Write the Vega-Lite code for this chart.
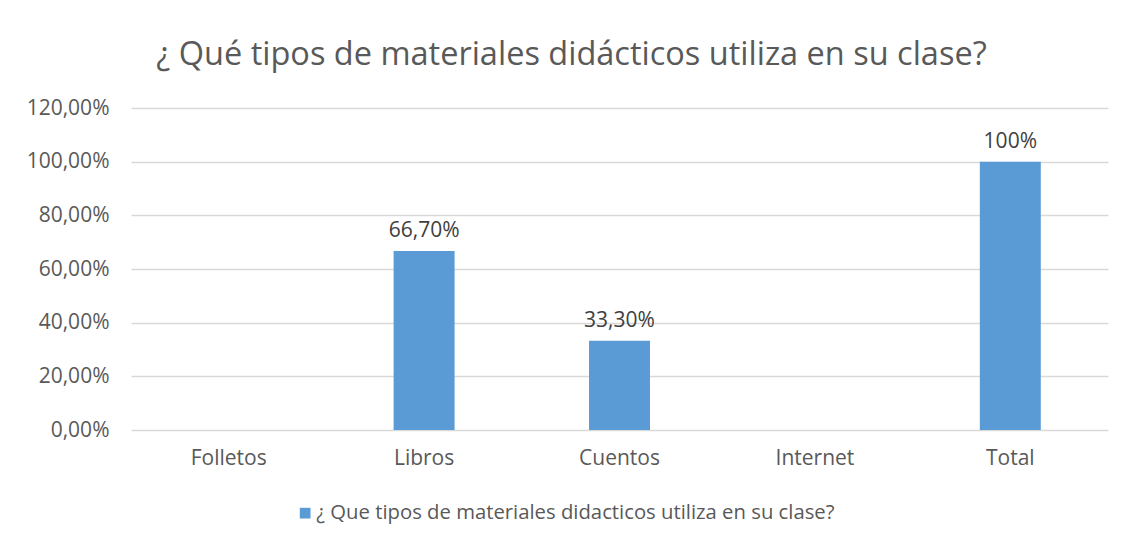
{
  "$schema": "https://vega.github.io/schema/vega-lite/v6.json",
  "width": 977,
  "height": 322,
  "autosize": {"type": "none"},
  "padding": {"left": 131, "top": 108, "right": 22, "bottom": 118},
  "background": "white",
  "config": {
    "view": {"stroke": null},
    "font": "Open Sans",
    "text": {"font": "Open Sans"}
  },
  "title": {
    "text": "¿ Qué tipos de materiales didácticos utiliza en su clase?",
    "fontSize": 32.5,
    "fontWeight": "normal",
    "color": "#595959",
    "font": "Open Sans",
    "anchor": "middle",
    "dx": -48,
    "offset": 26
  },
  "data": {
    "values": [
      {"categoria": "Folletos", "valor": 0, "etiqueta": "", "serie": "¿ Que tipos de materiales didacticos utiliza en su clase?"},
      {"categoria": "Libros", "valor": 0.667, "etiqueta": "66,70%", "serie": "¿ Que tipos de materiales didacticos utiliza en su clase?"},
      {"categoria": "Cuentos", "valor": 0.333, "etiqueta": "33,30%", "serie": "¿ Que tipos de materiales didacticos utiliza en su clase?"},
      {"categoria": "Internet", "valor": 0, "etiqueta": "", "serie": "¿ Que tipos de materiales didacticos utiliza en su clase?"},
      {"categoria": "Total", "valor": 1, "etiqueta": "100%", "serie": "¿ Que tipos de materiales didacticos utiliza en su clase?"}
    ]
  },
  "encoding": {
    "x": {
      "field": "categoria",
      "type": "nominal",
      "sort": null,
      "scale": {"paddingInner": 0.688, "paddingOuter": 0.344},
      "axis": {
        "title": null,
        "labelAngle": 0,
        "labelFontSize": 21,
        "labelColor": "#595959",
        "labelFont": "Open Sans",
        "labelPadding": 17,
        "domain": false,
        "ticks": false
      }
    },
    "y": {
      "field": "valor",
      "type": "quantitative",
      "scale": {"domain": [0, 1.2], "nice": false},
      "axis": {
        "title": null,
        "values": [0, 0.2, 0.4, 0.6, 0.8, 1.0, 1.2],
        "labelExpr": "replace(format(datum.value, '.2%'), '.', ',')",
        "labelFontSize": 21,
        "labelColor": "#595959",
        "labelFont": "Open Sans",
        "labelPadding": 22,
        "domain": false,
        "ticks": false,
        "grid": true,
        "gridColor": "#d9d9d9",
        "gridWidth": 1.3
      }
    }
  },
  "layer": [
    {
      "mark": {"type": "bar", "color": "#5B9BD5"},
      "encoding": {
        "color": {
          "field": "serie",
          "type": "nominal",
          "scale": {"range": ["#5B9BD5"]},
          "legend": {
            "title": null,
            "orient": "none",
            "legendX": 164,
            "legendY": 395,
            "symbolType": "square",
            "symbolSize": 115,
            "symbolStrokeWidth": 0,
            "labelFontSize": 20.3,
            "labelColor": "#595959",
            "labelFont": "Open Sans",
            "labelLimit": 900,
            "labelOffset": 1
          }
        }
      }
    },
    {
      "mark": {"type": "text", "baseline": "alphabetic", "dy": -14, "fontSize": 21, "color": "#404040", "font": "Open Sans"},
      "encoding": {"text": {"field": "etiqueta"}}
    }
  ]
}
